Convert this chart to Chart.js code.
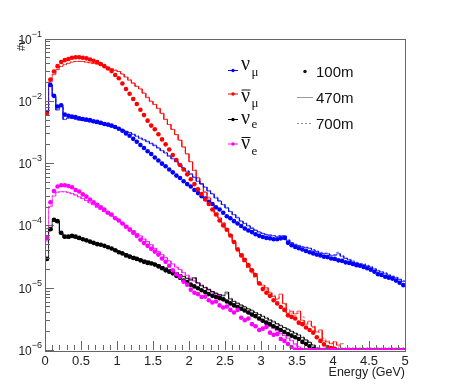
<!DOCTYPE html>
<html>
<head>
<meta charset="utf-8">
<script src="https://cdn.jsdelivr.net/npm/chart.js@4.4.1/dist/chart.umd.min.js"></script>
<style>
  html, body { margin: 0; padding: 0; background: #fff; }
  #wrap { width: 450px; height: 389px; }
</style>
</head>
<body>
<div id="wrap"><canvas id="flux" width="450" height="389"></canvas></div>
<script>
// Neutrino flux per 0.05 GeV energy bin, 100 bins from 0 to 5 GeV
const binWidth = 0.05;

// 100 m (points)
const numu100 = [
  6.6e-3, 1.8e-2, 1.2e-2, 8.1e-3, 8.5e-3, 6.0e-3, 5.75e-3, 5.6e-3, 5.5e-3, 5.25e-3,
  5.1e-3, 5.0e-3, 4.9e-3, 4.7e-3, 4.6e-3, 4.45e-3, 4.25e-3, 4.15e-3, 4.0e-3, 3.8e-3,
  3.55e-3, 3.3e-3, 3.0e-3, 2.75e-3, 2.45e-3, 2.2e-3, 1.95e-3, 1.75e-3, 1.55e-3, 1.4e-3,
  1.23e-3, 1.1e-3, 9.8e-4, 8.9e-4, 7.9e-4, 7.1e-4, 6.3e-4, 5.75e-4, 5.1e-4, 4.6e-4,
  4.2e-4, 3.7e-4, 3.3e-4, 2.95e-4, 2.7e-4, 2.4e-4, 2.2e-4, 1.95e-4, 1.8e-4, 1.6e-4,
  1.4e-4, 1.3e-4, 1.17e-4, 1.07e-4, 9.8e-5, 8.9e-5, 8.3e-5, 7.8e-5, 7.2e-5, 6.8e-5,
  6.5e-5, 6.3e-5, 6.2e-5, 6.0e-5, 6.0e-5, 6.2e-5, 6.3e-5, 5.25e-5, 4.8e-5, 4.5e-5,
  4.3e-5, 4.1e-5, 3.9e-5, 3.7e-5, 3.55e-5, 3.4e-5, 3.3e-5, 3.15e-5, 3.1e-5, 2.95e-5,
  2.9e-5, 2.75e-5, 2.7e-5, 2.55e-5, 2.5e-5, 2.4e-5, 2.3e-5, 2.25e-5, 2.15e-5, 2.05e-5,
  1.95e-5, 1.8e-5, 1.65e-5, 1.6e-5, 1.5e-5, 1.45e-5, 1.4e-5, 1.3e-5, 1.2e-5, 1.1e-5
];
const numubar100 = [
  6.2e-3, 2.2e-2, 2.95e-2, 3.6e-2, 4.2e-2, 4.5e-2, 4.7e-2, 4.9e-2, 5.0e-2, 5.0e-2,
  4.9e-2, 4.8e-2, 4.6e-2, 4.4e-2, 4.2e-2, 3.9e-2, 3.6e-2, 3.3e-2, 3.0e-2, 2.6e-2,
  2.3e-2, 1.9e-2, 1.55e-2, 1.3e-2, 1.07e-2, 8.9e-3, 7.2e-3, 5.9e-3, 4.8e-3, 4.0e-3,
  3.5e-3, 2.9e-3, 2.4e-3, 2.0e-3, 1.65e-3, 1.35e-3, 1.12e-3, 9.3e-4, 7.9e-4, 6.6e-4,
  5.5e-4, 4.6e-4, 3.8e-4, 3.2e-4, 2.6e-4, 2.2e-4, 1.8e-4, 1.5e-4, 1.2e-4, 1.0e-4,
  8.5e-5, 6.9e-5, 5.4e-5, 4.1e-5, 3.3e-5, 2.8e-5, 2.3e-5, 1.9e-5, 1.6e-5, 1.17e-5,
  9.5e-6, 8.3e-6, 7.4e-6, 6.3e-6, 5.6e-6, 4.9e-6, 4.4e-6, 3.6e-6, 3.4e-6, 3.2e-6,
  2.75e-6, 2.6e-6, 2.3e-6, 2.1e-6, 1.9e-6, 1.6e-6, 1.4e-6, 1.23e-6, 1.12e-6, 1.07e-6,
  1.05e-6, 0, 0, 0, 0, 0, 0, 0, 0, 0,
  0, 0, 0, 0, 0, 0, 0, 0, 0, 0
];
const nue100 = [
  2.9e-5, 8.7e-5, 1.23e-4, 1.17e-4, 7.6e-5, 6.6e-5, 6.6e-5, 6.8e-5, 6.6e-5, 6.3e-5,
  6.0e-5, 5.75e-5, 5.5e-5, 5.25e-5, 5.0e-5, 4.9e-5, 4.7e-5, 4.45e-5, 4.25e-5, 4.0e-5,
  3.7e-5, 3.55e-5, 3.3e-5, 3.15e-5, 3.0e-5, 2.9e-5, 2.75e-5, 2.6e-5, 2.5e-5, 2.45e-5,
  2.35e-5, 2.2e-5, 2.05e-5, 1.9e-5, 1.8e-5, 1.7e-5, 1.55e-5, 1.45e-5, 1.3e-5, 1.23e-5,
  1.12e-5, 1.05e-5, 9.8e-6, 9.1e-6, 8.5e-6, 7.9e-6, 7.4e-6, 7.1e-6, 6.8e-6, 6.5e-6,
  6.0e-6, 5.6e-6, 5.2e-6, 4.9e-6, 4.6e-6, 4.3e-6, 4.0e-6, 3.7e-6, 3.5e-6, 3.2e-6,
  2.95e-6, 2.75e-6, 2.6e-6, 2.4e-6, 2.25e-6, 2.1e-6, 1.95e-6, 1.8e-6, 1.7e-6, 1.6e-6,
  1.5e-6, 1.35e-6, 1.25e-6, 1.15e-6, 1.05e-6, 0, 0, 0, 0, 0,
  0, 0, 0, 0, 0, 0, 0, 0, 0, 0,
  0, 0, 0, 0, 0, 0, 0, 0, 0, 0
];
const nuebar100 = [
  6.3e-5, 2.35e-4, 3.55e-4, 4.2e-4, 4.4e-4, 4.4e-4, 4.3e-4, 4.1e-4, 3.7e-4, 3.5e-4,
  3.15e-4, 2.9e-4, 2.6e-4, 2.35e-4, 2.15e-4, 1.95e-4, 1.8e-4, 1.6e-4, 1.5e-4, 1.3e-4,
  1.2e-4, 1.07e-4, 9.5e-5, 8.5e-5, 7.6e-5, 6.8e-5, 5.9e-5, 5.2e-5, 4.7e-5, 4.2e-5,
  3.8e-5, 3.4e-5, 2.95e-5, 2.6e-5, 2.25e-5, 1.9e-5, 1.65e-5, 1.5e-5, 1.25e-5, 1.12e-5,
  9.3e-6, 8.3e-6, 7.9e-6, 7.1e-6, 7.2e-6, 6.3e-6, 5.8e-6, 6.0e-6, 5.2e-6, 4.8e-6,
  5.0e-6, 4.4e-6, 4.0e-6, 4.4e-6, 3.3e-6, 3.0e-6, 3.2e-6, 2.6e-6, 2.4e-6, 2.1e-6,
  2.2e-6, 2.35e-6, 1.9e-6, 1.75e-6, 1.8e-6, 1.5e-6, 1.4e-6, 1.25e-6, 1.12e-6, 1.02e-6,
  0, 0, 0, 0, 0, 0, 0, 0, 0, 0,
  0, 0, 0, 0, 0, 0, 0, 0, 0, 0,
  0, 0, 0, 0, 0, 0, 0, 0, 0, 0
];

// 470 m (solid histograms)
const numu470 = [
  6.8e-3, 1.8e-2, 1.17e-2, 7.1e-3, 8.1e-3, 5.0e-3, 5.25e-3, 5.25e-3, 5.1e-3, 4.9e-3,
  4.8e-3, 4.7e-3, 4.6e-3, 4.5e-3, 4.3e-3, 4.2e-3, 4.1e-3, 4.0e-3, 3.8e-3, 3.7e-3,
  3.55e-3, 3.4e-3, 3.25e-3, 3.1e-3, 2.9e-3, 2.7e-3, 2.5e-3, 2.35e-3, 2.2e-3, 2.05e-3,
  1.9e-3, 1.74e-3, 1.58e-3, 1.45e-3, 1.29e-3, 1.17e-3, 1.05e-3, 9.3e-4, 8.3e-4, 7.4e-4,
  6.6e-4, 5.9e-4, 5.1e-4, 4.6e-4, 4.1e-4, 3.55e-4, 3.2e-4, 2.75e-4, 2.45e-4, 2.15e-4,
  1.9e-4, 1.66e-4, 1.48e-4, 1.32e-4, 1.17e-4, 1.07e-4, 9.8e-5, 8.9e-5, 8.3e-5, 7.8e-5,
  7.4e-5, 7.1e-5, 6.9e-5, 6.8e-5, 6.6e-5, 6.8e-5, 6.8e-5, 5.75e-5, 5.25e-5, 4.9e-5,
  4.7e-5, 4.5e-5, 4.4e-5, 4.3e-5, 4.0e-5, 3.8e-5, 3.6e-5, 3.55e-5, 3.5e-5, 3.3e-5,
  3.3e-5, 3.5e-5, 3.2e-5, 2.95e-5, 2.8e-5, 2.6e-5, 2.5e-5, 2.4e-5, 2.35e-5, 2.25e-5,
  2.15e-5, 2.0e-5, 1.86e-5, 1.78e-5, 1.7e-5, 1.58e-5, 1.5e-5, 1.45e-5, 1.35e-5, 1.26e-5
];
const numubar470 = [
  6.2e-3, 2.0e-2, 2.63e-2, 3.16e-2, 3.55e-2, 3.8e-2, 3.98e-2, 4.17e-2, 4.27e-2, 4.27e-2,
  4.27e-2, 4.17e-2, 4.07e-2, 3.98e-2, 3.89e-2, 3.72e-2, 3.55e-2, 3.39e-2, 3.24e-2, 3.09e-2,
  2.95e-2, 2.69e-2, 2.4e-2, 2.14e-2, 1.91e-2, 1.7e-2, 1.55e-2, 1.32e-2, 1.12e-2, 9.8e-3,
  8.7e-3, 7.6e-3, 6.3e-3, 5.0e-3, 4.17e-3, 3.47e-3, 2.88e-3, 2.34e-3, 1.82e-3, 1.41e-3,
  1.05e-3, 7.6e-4, 5.75e-4, 4.68e-4, 3.39e-4, 2.75e-4, 2.19e-4, 1.58e-4, 1.32e-4, 1.1e-4,
  8.9e-5, 7.1e-5, 5.4e-5, 4.2e-5, 3.5e-5, 2.6e-5, 2.1e-5, 1.78e-5, 1.51e-5, 1.2e-5,
  1.1e-5, 1.0e-5, 8.3e-6, 7.2e-6, 6.6e-6, 7.9e-6, 5.6e-6, 3.9e-6, 4.2e-6, 3.8e-6,
  4.2e-6, 3.0e-6, 2.6e-6, 2.9e-6, 2.4e-6, 1.95e-6, 2.1e-6, 1.4e-6, 1.35e-6, 1.26e-6,
  1.35e-6, 1.2e-6, 1.26e-6, 0, 0, 0, 0, 0, 0, 0,
  0, 0, 0, 0, 0, 0, 0, 0, 0, 0
];
const nue470 = [
  2.75e-5, 8.3e-5, 1.17e-4, 1.12e-4, 7.4e-5, 6.3e-5, 6.3e-5, 6.5e-5, 6.3e-5, 6.0e-5,
  5.9e-5, 5.6e-5, 5.4e-5, 5.1e-5, 5.0e-5, 4.8e-5, 4.7e-5, 4.5e-5, 4.3e-5, 4.1e-5,
  3.8e-5, 3.6e-5, 3.5e-5, 3.3e-5, 3.16e-5, 3.0e-5, 2.9e-5, 2.75e-5, 2.7e-5, 2.57e-5,
  2.45e-5, 2.34e-5, 2.19e-5, 2.09e-5, 1.95e-5, 1.86e-5, 1.74e-5, 1.62e-5, 1.51e-5, 1.41e-5,
  1.32e-5, 1.45e-5, 1.2e-5, 1.07e-5, 1.0e-5, 9.3e-6, 8.7e-6, 8.1e-6, 7.8e-6, 7.4e-6,
  8.5e-6, 6.6e-6, 6.0e-6, 5.6e-6, 5.25e-6, 4.9e-6, 4.57e-6, 4.27e-6, 3.98e-6, 3.72e-6,
  3.47e-6, 3.24e-6, 3.02e-6, 2.82e-6, 2.63e-6, 2.45e-6, 2.29e-6, 2.14e-6, 2.0e-6, 1.86e-6,
  1.74e-6, 1.58e-6, 1.45e-6, 1.32e-6, 1.2e-6, 1.07e-6, 0, 0, 0, 0,
  0, 0, 0, 0, 0, 0, 0, 0, 0, 0,
  0, 0, 0, 0, 0, 0, 0, 0, 0, 0
];
const nuebar470 = [
  5.6e-5, 2.0e-4, 2.95e-4, 3.4e-4, 3.47e-4, 3.47e-4, 3.4e-4, 3.24e-4, 3.09e-4, 2.88e-4,
  2.69e-4, 2.51e-4, 2.29e-4, 2.14e-4, 1.95e-4, 1.82e-4, 1.66e-4, 1.55e-4, 1.41e-4, 1.32e-4,
  1.2e-4, 1.1e-4, 1.0e-4, 9.1e-5, 8.3e-5, 7.4e-5, 6.8e-5, 6.0e-5, 5.5e-5, 4.9e-5,
  4.27e-5, 3.8e-5, 3.39e-5, 3.02e-5, 2.69e-5, 2.4e-5, 2.14e-5, 1.95e-5, 1.74e-5, 1.58e-5,
  1.41e-5, 1.29e-5, 1.17e-5, 1.1e-5, 1.0e-5, 9.3e-6, 8.5e-6, 7.9e-6, 7.4e-6, 6.8e-6,
  6.3e-6, 5.75e-6, 5.4e-6, 4.9e-6, 4.57e-6, 4.17e-6, 3.89e-6, 3.63e-6, 3.31e-6, 3.09e-6,
  2.82e-6, 2.63e-6, 2.4e-6, 2.24e-6, 2.04e-6, 1.86e-6, 1.7e-6, 1.55e-6, 1.41e-6, 1.26e-6,
  1.12e-6, 1.02e-6, 0, 0, 0, 0, 0, 0, 0, 0,
  0, 0, 0, 0, 0, 0, 0, 0, 0, 0,
  0, 0, 0, 0, 0, 0, 0, 0, 0, 0
];

// 700 m (dashed histograms)
const numu700 = [
  6.7e-3, 1.75e-2, 1.2e-2, 7.3e-3, 8.0e-3, 5.2e-3, 5.3e-3, 5.2e-3, 5.0e-3, 4.95e-3,
  4.85e-3, 4.7e-3, 4.55e-3, 4.45e-3, 4.35e-3, 4.2e-3, 4.05e-3, 3.95e-3, 3.85e-3, 3.7e-3,
  3.6e-3, 3.45e-3, 3.3e-3, 3.1e-3, 2.95e-3, 2.75e-3, 2.55e-3, 2.4e-3, 2.25e-3, 2.1e-3,
  1.95e-3, 1.78e-3, 1.62e-3, 1.48e-3, 1.32e-3, 1.2e-3, 1.08e-3, 9.6e-4, 8.5e-4, 7.6e-4,
  6.8e-4, 6.0e-4, 5.3e-4, 4.7e-4, 4.2e-4, 3.65e-4, 3.25e-4, 2.85e-4, 2.5e-4, 2.2e-4,
  1.95e-4, 1.7e-4, 1.5e-4, 1.35e-4, 1.2e-4, 1.1e-4, 1.0e-4, 9.2e-5, 8.5e-5, 8.0e-5,
  7.5e-5, 7.2e-5, 7.1e-5, 6.9e-5, 6.8e-5, 6.9e-5, 6.7e-5, 5.9e-5, 5.3e-5, 5.0e-5,
  4.8e-5, 4.6e-5, 4.5e-5, 4.3e-5, 4.1e-5, 3.9e-5, 3.7e-5, 3.6e-5, 3.6e-5, 3.4e-5,
  3.4e-5, 3.7e-5, 3.3e-5, 3.0e-5, 2.85e-5, 2.7e-5, 2.55e-5, 2.45e-5, 2.45e-5, 2.3e-5,
  2.2e-5, 2.05e-5, 1.9e-5, 1.82e-5, 1.74e-5, 1.62e-5, 1.55e-5, 1.48e-5, 1.38e-5, 1.3e-5
];
const numubar700 = [
  6.3e-3, 2.05e-2, 2.7e-2, 3.2e-2, 3.6e-2, 3.85e-2, 4.05e-2, 4.2e-2, 4.3e-2, 4.3e-2,
  4.25e-2, 4.2e-2, 4.1e-2, 4.0e-2, 3.9e-2, 3.75e-2, 3.6e-2, 3.45e-2, 3.3e-2, 3.1e-2,
  2.95e-2, 2.7e-2, 2.45e-2, 2.2e-2, 1.95e-2, 1.75e-2, 1.55e-2, 1.35e-2, 1.15e-2, 1.0e-2,
  8.8e-3, 7.5e-3, 6.2e-3, 5.1e-3, 4.2e-3, 3.5e-3, 2.85e-3, 2.3e-3, 1.8e-3, 1.4e-3,
  1.06e-3, 7.8e-4, 5.9e-4, 4.6e-4, 3.5e-4, 2.85e-4, 2.1e-4, 1.65e-4, 1.3e-4, 1.05e-4,
  8.6e-5, 7.0e-5, 5.6e-5, 4.4e-5, 3.4e-5, 2.7e-5, 2.2e-5, 1.7e-5, 1.45e-5, 1.25e-5,
  1.05e-5, 9.5e-6, 8.6e-6, 7.5e-6, 6.4e-6, 7.1e-6, 5.4e-6, 4.5e-6, 3.9e-6, 3.6e-6,
  3.9e-6, 3.4e-6, 2.8e-6, 2.6e-6, 2.3e-6, 2.0e-6, 1.9e-6, 1.55e-6, 1.4e-6, 1.3e-6,
  1.25e-6, 1.15e-6, 0, 0, 0, 0, 0, 0, 0, 0,
  0, 0, 0, 0, 0, 0, 0, 0, 0, 0
];
const nue700 = [
  2.8e-5, 8.5e-5, 1.2e-4, 1.1e-4, 7.2e-5, 6.4e-5, 6.2e-5, 6.4e-5, 6.2e-5, 6.1e-5,
  5.8e-5, 5.6e-5, 5.3e-5, 5.2e-5, 4.9e-5, 4.8e-5, 4.6e-5, 4.5e-5, 4.25e-5, 4.1e-5,
  3.85e-5, 3.65e-5, 3.45e-5, 3.3e-5, 3.2e-5, 3.0e-5, 2.85e-5, 2.8e-5, 2.65e-5, 2.6e-5,
  2.45e-5, 2.3e-5, 2.2e-5, 2.05e-5, 1.98e-5, 1.85e-5, 1.75e-5, 1.6e-5, 1.53e-5, 1.42e-5,
  1.35e-5, 1.4e-5, 1.22e-5, 1.1e-5, 1.02e-5, 9.5e-6, 8.6e-6, 8.3e-6, 7.7e-6, 7.6e-6,
  8.0e-6, 6.8e-6, 6.1e-6, 5.7e-6, 5.3e-6, 5.0e-6, 4.6e-6, 4.4e-6, 4.0e-6, 3.8e-6,
  3.5e-6, 3.3e-6, 3.05e-6, 2.9e-6, 2.65e-6, 2.5e-6, 2.3e-6, 2.2e-6, 2.0e-6, 1.9e-6,
  1.75e-6, 1.62e-6, 1.45e-6, 1.35e-6, 1.22e-6, 1.1e-6, 0, 0, 0, 0,
  0, 0, 0, 0, 0, 0, 0, 0, 0, 0,
  0, 0, 0, 0, 0, 0, 0, 0, 0, 0
];
const nuebar700 = [
  5.8e-5, 2.1e-4, 3.05e-4, 3.45e-4, 3.5e-4, 3.45e-4, 3.35e-4, 3.2e-4, 3.05e-4, 2.85e-4,
  2.7e-4, 2.5e-4, 2.3e-4, 2.15e-4, 1.97e-4, 1.8e-4, 1.67e-4, 1.53e-4, 1.42e-4, 1.3e-4,
  1.21e-4, 1.1e-4, 1.01e-4, 9.2e-5, 8.2e-5, 7.5e-5, 6.7e-5, 6.1e-5, 5.4e-5, 4.9e-5,
  4.3e-5, 3.85e-5, 3.4e-5, 3.05e-5, 2.7e-5, 2.45e-5, 2.15e-5, 1.97e-5, 1.75e-5, 1.6e-5,
  1.43e-5, 1.28e-5, 1.2e-5, 1.08e-5, 1.02e-5, 9.1e-6, 8.7e-6, 7.8e-6, 7.5e-6, 6.7e-6,
  6.4e-6, 5.7e-6, 5.5e-6, 4.8e-6, 4.6e-6, 4.1e-6, 3.95e-6, 3.55e-6, 3.35e-6, 3.0e-6,
  2.85e-6, 2.6e-6, 2.45e-6, 2.2e-6, 2.08e-6, 1.82e-6, 1.72e-6, 1.5e-6, 1.42e-6, 1.22e-6,
  1.15e-6, 1.0e-6, 0, 0, 0, 0, 0, 0, 0, 0,
  0, 0, 0, 0, 0, 0, 0, 0, 0, 0,
  0, 0, 0, 0, 0, 0, 0, 0, 0, 0
];

// Axis ticks
const xTickValues = [0, 0.5, 1, 1.5, 2, 2.5, 3, 3.5, 4, 4.5, 5];
const xTickLabels = ['0', '0.5', '1', '1.5', '2', '2.5', '3', '3.5', '4', '4.5', '5'];
const yDecades = [-6, -5, -4, -3, -2, -1];

const X_MIN = 0, X_MAX = 5, Y_MIN = 1e-6, Y_MAX = 1e-1;
const BLUE = '#0000ff', RED = '#ff0000', BLACK = '#000000', MAGENTA = '#ff00ff';
const LABEL_FONT = '"Liberation Sans", Arial, Helvetica, sans-serif';
const GREEK_FONT = '"Liberation Serif", "Times New Roman", serif';

const binCentres = numu100.map((_, i) => (i + 0.5) * binWidth);

// Points: empty bins sit on the lower edge like ROOT does on a log axis
function pointData(values) {
    return values.map((v, i) => ({ x: binCentres[i], y: v > 0 ? v : Y_MIN }));
}

// Histogram outline: flat top across each bin, gaps for empty bins
function histData(values) {
    const pts = [];
    values.forEach((v, i) => {
        const lo = binCentres[i] - binWidth / 2;
        const hi = binCentres[i] + binWidth / 2;
        if (v > 0) {
            pts.push({ x: lo, y: v }, { x: hi, y: v });
        } else {
            pts.push({ x: lo, y: null });
        }
    });
    return pts;
}

function withAlpha(hex, a) {
    const n = parseInt(hex.slice(1), 16);
    return `rgba(${(n >> 16) & 255}, ${(n >> 8) & 255}, ${n & 255}, ${a})`;
}

function pointSet(label, values, color) {
    return {
        label, data: pointData(values), order: 0, showLine: false,
        pointRadius: 2.3, pointBorderWidth: 0, pointBackgroundColor: color,
        borderColor: color, clip: 0
    };
}

function histSet(label, values, color, dashed) {
    return {
        label, data: histData(values), order: 1, pointRadius: 0,
        borderWidth: 1, borderColor: withAlpha(color, dashed ? 0.55 : 0.7),
        borderDash: dashed ? [3, 2] : [], fill: false, tension: 0, spanGaps: false
    };
}

const datasets = [
    pointSet('nuebar 100m', nuebar100, MAGENTA),
    pointSet('nue 100m', nue100, BLACK),
    pointSet('numubar 100m', numubar100, RED),
    pointSet('numu 100m', numu100, BLUE),
    histSet('numu 470m', numu470, BLUE, false),
    histSet('numu 700m', numu700, BLUE, true),
    histSet('numubar 470m', numubar470, RED, false),
    histSet('numubar 700m', numubar700, RED, true),
    histSet('nue 470m', nue470, BLACK, false),
    histSet('nue 700m', nue700, BLACK, true),
    histSet('nuebar 470m', nuebar470, MAGENTA, false),
    histSet('nuebar 700m', nuebar700, MAGENTA, true)
];

// ROOT-style frame, inward ticks, labels and legend
const rootFrame = {
    id: 'rootFrame',
    beforeDraw(chart) {
        const ctx = chart.ctx;
        ctx.save();
        ctx.fillStyle = '#ffffff';
        ctx.fillRect(0, 0, chart.width, chart.height);
        ctx.restore();
    },
    afterDraw(chart) {
        const { ctx, chartArea: a, scales } = chart;
        const xs = scales.x, ys = scales.y;
        ctx.save();

        // frame
        ctx.strokeStyle = '#666';
        ctx.lineWidth = 1;
        ctx.strokeRect(Math.round(a.left) + 0.5, Math.round(a.top) + 0.5,
            Math.round(a.right - a.left), Math.round(a.bottom - a.top));

        // x ticks
        ctx.beginPath();
        for (let t = 0; t <= 50; t++) {
            const px = Math.round(xs.getPixelForValue(t / 10)) + 0.5;
            const len = t % 5 === 0 ? 9 : 5;
            ctx.moveTo(px, a.bottom);
            ctx.lineTo(px, a.bottom - len);
        }
        // y ticks (log)
        yDecades.forEach((d) => {
            for (let m = 1; m <= 9; m++) {
                const v = m * Math.pow(10, d);
                if (v > Y_MAX) break;
                const py = Math.round(ys.getPixelForValue(v)) + 0.5;
                const len = m === 1 ? 9 : 5;
                ctx.moveTo(a.left, py);
                ctx.lineTo(a.left + len, py);
            }
        });
        ctx.stroke();

        // x labels
        ctx.fillStyle = '#222';
        ctx.font = '13px ' + LABEL_FONT;
        ctx.textAlign = 'center';
        ctx.textBaseline = 'alphabetic';
        xTickValues.forEach((v, i) => {
            ctx.fillText(xTickLabels[i], xs.getPixelForValue(v), a.bottom + 15);
        });

        // y labels: 10^d
        yDecades.forEach((d) => {
            const py = ys.getPixelForValue(Math.pow(10, d));
            const exp = String(d).replace('-', '\u2212');
            ctx.font = '9px ' + LABEL_FONT;
            ctx.textAlign = 'left';
            const ew = ctx.measureText(exp).width;
            const ex = a.left - 3 - ew;
            ctx.fillText(exp, ex, py - 2);
            ctx.font = '12px ' + LABEL_FONT;
            ctx.textAlign = 'right';
            ctx.fillText('10', ex, py + 5);
        });

        // axis titles
        ctx.font = '12.5px ' + LABEL_FONT;
        ctx.textAlign = 'right';
        ctx.fillText('Energy (GeV)', a.right, a.bottom + 26);

        ctx.save();
        ctx.translate(25, a.top + 1);
        ctx.rotate(-Math.PI / 2);
        ctx.textAlign = 'right';
        ctx.font = '11px ' + LABEL_FONT;
        ctx.fillText('#\u03bd', 0, 0);
        ctx.restore();

        // legend, flavour column
        const rows = [
            { c: BLUE, bar: false, sub: '\u03bc', my: 70, by: 69.5, sy: 76 },
            { c: RED, bar: true, sub: '\u03bc', my: 93.5, by: 101.5, sy: 107 },
            { c: BLACK, bar: false, sub: 'e', my: 119, by: 123.5, sy: 128 },
            { c: MAGENTA, bar: true, sub: 'e', my: 143.5, by: 149, sy: 155 }
        ];
        rows.forEach((r) => {
            ctx.strokeStyle = r.c;
            ctx.lineWidth = 1;
            ctx.beginPath();
            ctx.moveTo(228, r.my + 0.5);
            ctx.lineTo(238, r.my + 0.5);
            ctx.stroke();
            ctx.fillStyle = r.c;
            ctx.beginPath();
            ctx.arc(233, r.my + 0.5, 1.7, 0, Math.PI * 2);
            ctx.fill();

            ctx.fillStyle = '#111';
            ctx.textAlign = 'left';
            ctx.font = '20px ' + GREEK_FONT;
            ctx.fillText('\u03bd', 241, r.by);
            if (r.bar) {
                ctx.strokeStyle = '#111';
                ctx.beginPath();
                ctx.moveTo(241.5, r.by - 11.5);
                ctx.lineTo(250.5, r.by - 11.5);
                ctx.stroke();
            }
            ctx.font = '13px ' + GREEK_FONT;
            ctx.fillText(r.sub, 251.5, r.sy);
        });

        // legend, distance column
        ctx.fillStyle = '#111';
        ctx.beginPath();
        ctx.arc(305, 71.5, 1.7, 0, Math.PI * 2);
        ctx.fill();
        ctx.strokeStyle = '#999';
        ctx.beginPath();
        ctx.moveTo(297, 97.5);
        ctx.lineTo(313, 97.5);
        ctx.stroke();
        ctx.setLineDash([2, 2]);
        ctx.beginPath();
        ctx.moveTo(297, 123.5);
        ctx.lineTo(313, 123.5);
        ctx.stroke();
        ctx.setLineDash([]);

        ctx.font = '15px ' + LABEL_FONT;
        ctx.textAlign = 'left';
        ctx.fillText('100m', 316, 77);
        ctx.fillText('470m', 316, 103);
        ctx.fillText('700m', 316, 128.5);

        ctx.restore();
    }
};

new Chart(document.getElementById('flux'), {
    type: 'line',
    data: { datasets },
    options: {
        responsive: false,
        devicePixelRatio: 1,
        animation: false,
        events: [],
        layout: { padding: { left: 45, right: 45, top: 38.5, bottom: 39 } },
        plugins: { legend: { display: false }, tooltip: { enabled: false } },
        scales: {
            x: { type: 'linear', min: X_MIN, max: X_MAX, display: false },
            y: { type: 'logarithmic', min: Y_MIN, max: Y_MAX, display: false }
        }
    },
    plugins: [rootFrame]
});
</script>
</body>
</html>
